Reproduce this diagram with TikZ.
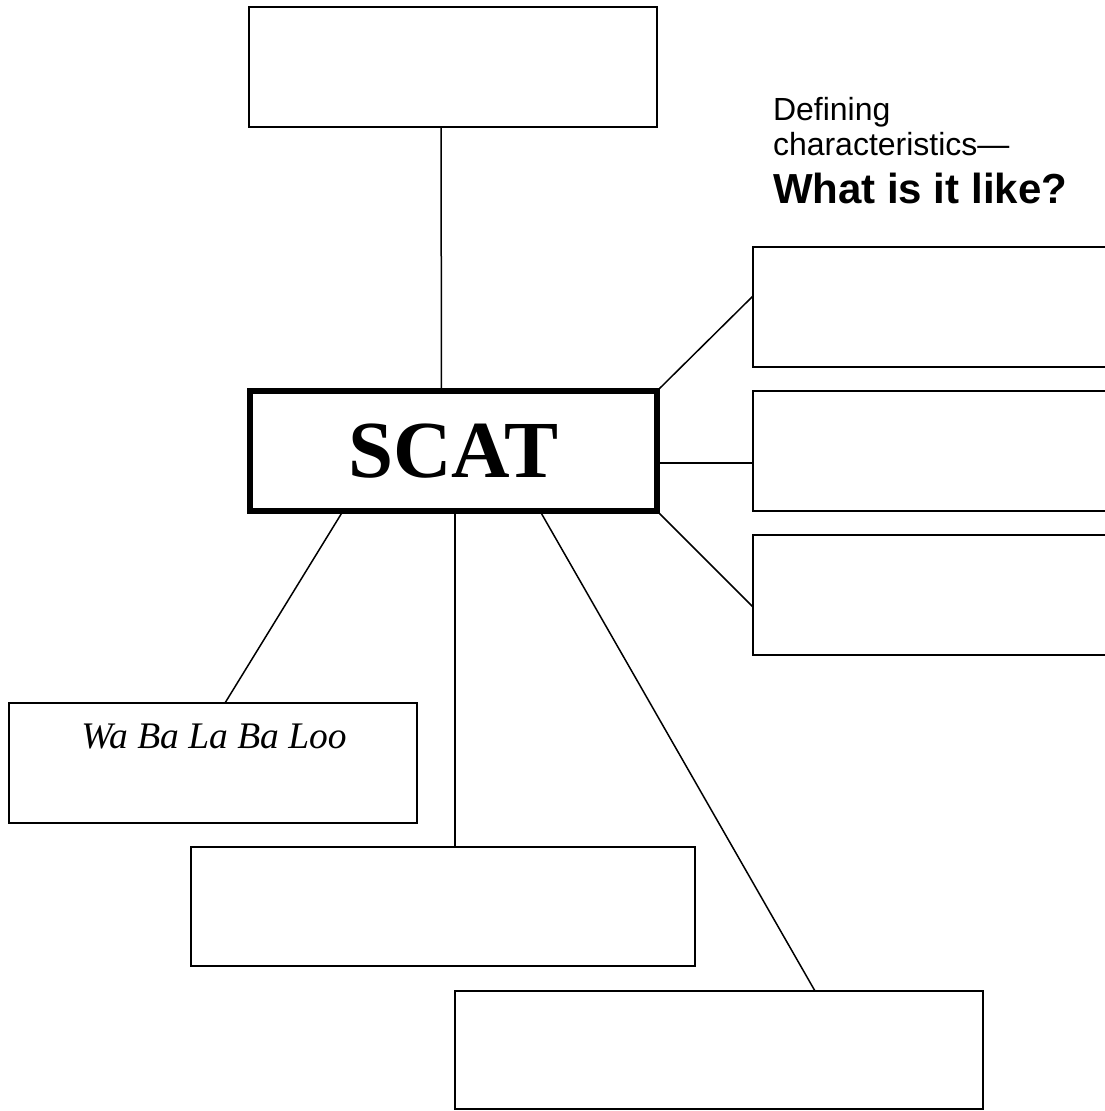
\documentclass[tikz,border=0pt]{standalone}
\usepackage{fontspec}
\setmainfont{Liberation Serif}
\newfontfamily\arialfont{Liberation Sans}
\usetikzlibrary{calc}
\tikzset{
  box/.style={draw=black, line width=1.8pt, rectangle, inner sep=0pt, outer sep=0pt},
  boxthick/.style={box, line width=2.6pt},
  mainbox/.style={box, line width=5.5pt},
  link/.style={draw=black, line width=1.5pt},
  lbl/.style={inner sep=0pt, outer sep=0pt, anchor=base west, align=left},
}
\begin{document}
\begin{tikzpicture}[x=1pt,y=-1pt]
\useasboundingbox (0,0) rectangle (1105,1111);
\clip (0,0) rectangle (1105,1111);
\fill[white] (0,0) rectangle (1105,1111);

% boxes
\node[box, minimum width=408pt, minimum height=120pt] (top) at (453,67) {};
\node[mainbox, minimum width=407pt, minimum height=120pt,
      font=\bfseries\fontsize{81}{90}\selectfont] (scat) at (453.5,451) {SCAT};
\node[box, minimum width=400pt, minimum height=120pt] (r1) at (953,307) {};
\node[box, minimum width=400pt, minimum height=120pt] (r2) at (953,451) {};
\node[box, minimum width=400pt, minimum height=120pt] (r3) at (953,595) {};
\node[box, minimum width=408pt, minimum height=120pt] (lb) at (213,763) {};
\node[boxthick, minimum width=504pt, minimum height=119pt] (mb) at (443,906.5) {};
\node[boxthick, minimum width=528pt, minimum height=118pt] (bb) at (719,1050) {};

% texts
\node[inner sep=0pt, anchor=base, font=\itshape\fontsize{37.5}{40}\selectfont] (wa) at (214,748) {Wa Ba La Ba Loo};
\node[lbl, font=\arialfont\fontsize{32}{35}\selectfont] (def1) at (773,120) {Defining};
\node[lbl, font=\arialfont\fontsize{32}{35}\selectfont] (def2) at (773,155) {characteristics—};
\node[lbl, font=\arialfont\bfseries\fontsize{42}{46}\selectfont] (what) at (773,203) {What is it like?};

% connectors
\draw[link] ([xshift=-12pt]top.south) -- ([xshift=-12pt]scat.north);
\draw[link] (scat.north east) -- ([yshift=11pt]r1.west);
\draw[link] ([yshift=-12pt]scat.east) -- ([yshift=-12pt]r2.west);
\draw[link] (scat.south east) -- ([yshift=-12pt]r3.west);
\draw[link] ([xshift=-110.5pt]scat.south) -- ([xshift=12pt]lb.north);
\draw[link] ([xshift=1.5pt]scat.south) -- ([xshift=12pt]mb.north);
\draw[link] ([xshift=86.5pt]scat.south) -- ([xshift=96pt]bb.north);
\end{tikzpicture}
\end{document}
